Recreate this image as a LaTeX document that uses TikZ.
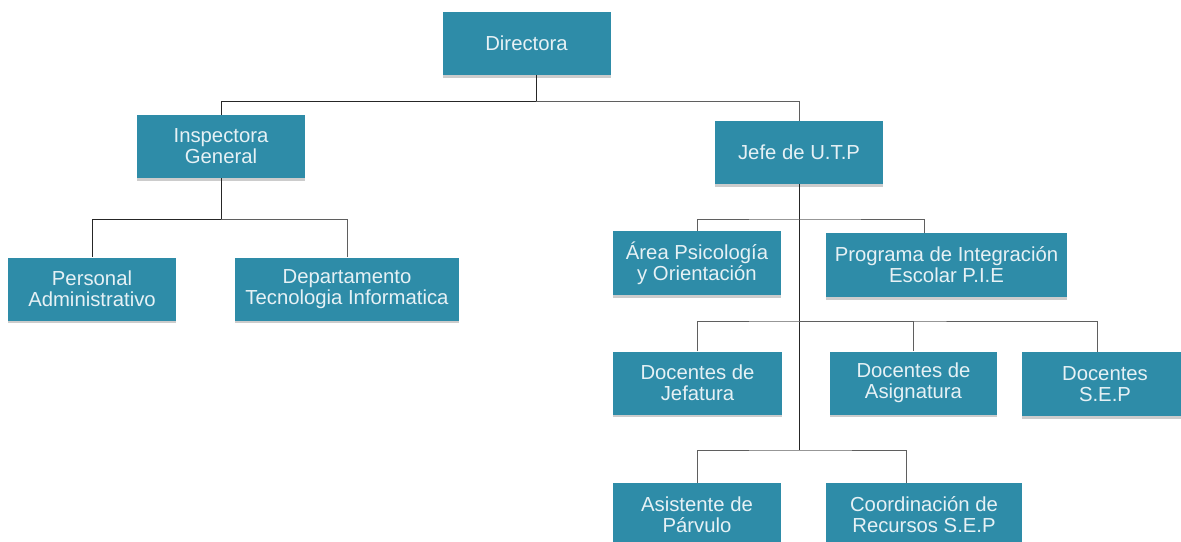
\documentclass[tikz,border=0pt]{standalone}
\usepackage{fontspec}
\setmainfont{Liberation Sans}
\usetikzlibrary{shadows}
\definecolor{cajaazul}{RGB}{46,140,168}
\definecolor{linea}{RGB}{95,95,95}
\tikzset{
  caja/.style={fill=cajaazul, text=white!88!cajaazul, align=center, inner sep=0pt,
    minimum width=168pt, minimum height=63pt, font=\fontsize{20.3}{21}\selectfont,
    drop shadow={opacity=0.4, shadow xshift=0pt, shadow yshift=-2.5pt}},
  rama/.style={draw=linea, line width=1pt},
  tronco/.style={draw=black!85, line width=1pt}
}

\begin{document}
\begin{tikzpicture}[x=1pt,y=-1pt]
\useasboundingbox (0,0) rectangle (1181,541);
\node[caja] (dir) at (526.5,43.5) {Directora};
\node[caja] (insp) at (221,146.5) {Inspectora\\General};
\node[caja] (jefe) at (799,152.5) {Jefe de U.T.P};
% rama inspectora
\node[caja] (pers) at (92,289) {Personal\\Administrativo};
\node[caja, minimum width=224pt] (depto) at (347,289) {Departamento\\Tecnologia Informatica};
% rama jefe U.T.P
\node[caja, minimum height=64pt] (area) at (697,263) {Área Psicología\\y Orientación};
\node[caja, minimum width=241pt, minimum height=64pt] (prog) at (946.5,265) {Programa de Integración\\Escolar P.I.E};
\node[caja, minimum width=169pt] (jef) at (697.5,383) {Docentes de\\Jefatura};
\node[caja, minimum width=167pt] (asig) at (913.5,383) {Docentes de\\Asignatura};
\node[caja, minimum width=166pt, minimum height=64pt] (sep) at (1105,384) {Docentes\\S.E.P};
\node[caja] (asis) at (697,514.5) {Asistente de\\Párvulo};
\node[caja, minimum width=196pt] (coord) at (924,514.5) {Coordinación de\\Recursos S.E.P};

\coordinate (b1) at (799,219);
\coordinate (b2) at (799,321);
\coordinate (b3) at (799,450);

\draw[tronco] ([xshift=9.5pt]dir.south) -- ++(0,26) -| (insp.north);
\draw[rama] ([xshift=9.5pt]dir.south) ++(0,26) -| (jefe.north);
\draw[tronco] (insp.south) -- ++(0,41) -| (pers.north);
\draw[rama] (insp.south) ++(0,41) -| (depto.north);
\draw[tronco] (jefe.south) -- (b3);
\draw[rama] (area.north) |- (b1) -| ([xshift=-22.5pt]prog.north);
\draw[rama] (jef.north) |- (b2) -| ([xshift=-8pt]sep.north);
\draw[rama] (b2) -| (asig.north);
\draw[rama] (asis.north) |- (b3) -| ([xshift=-18pt]coord.north);
\end{tikzpicture}
\end{document}
